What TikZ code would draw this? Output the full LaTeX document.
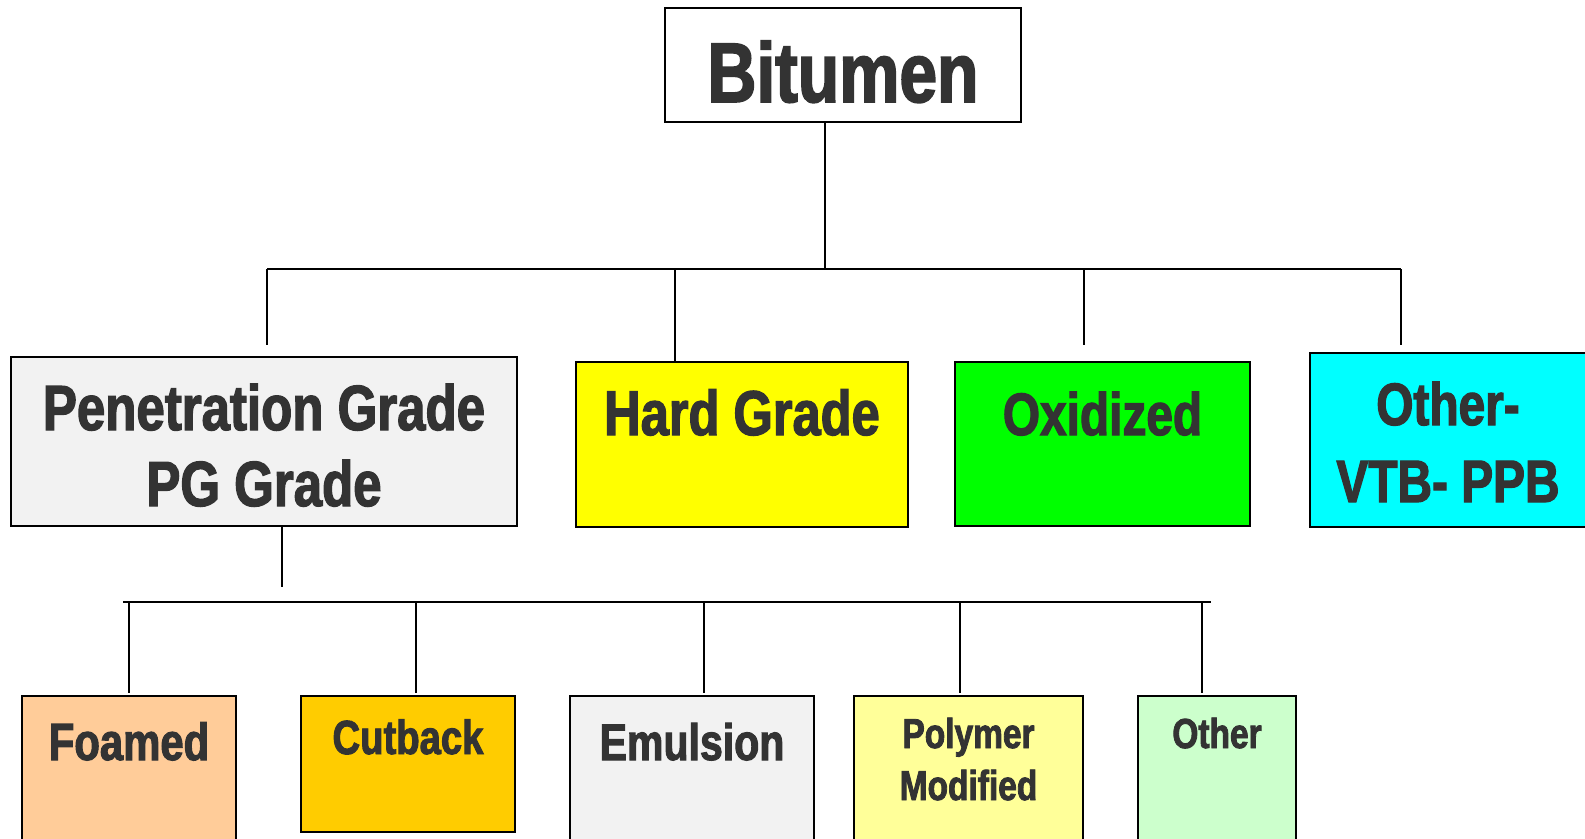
\documentclass[tikz,border=0pt]{standalone}
\usepackage{fontspec}
\newfontfamily\hf{Liberation Sans}[FakeStretch=0.8, BoldFeatures={FakeBold=2}]
\definecolor{txt}{HTML}{333333}
\definecolor{pgfill}{HTML}{F2F2F2}
\definecolor{hardfill}{HTML}{FFFF00}
\definecolor{oxfill}{HTML}{00FF00}
\definecolor{vtbfill}{HTML}{00FFFF}
\definecolor{foamfill}{HTML}{FFCC99}
\definecolor{cutfill}{HTML}{FFCC00}
\definecolor{polyfill}{HTML}{FFFF99}
\definecolor{othfill}{HTML}{CCFFCC}
\begin{document}
\begin{tikzpicture}[x=1bp,y=-1bp,
  box/.style={draw=black, line width=2bp, rectangle, inner sep=0pt},
  lbl/.style={text=txt, font=\hf\bfseries, align=center, inner sep=0pt, anchor=base},
  wire/.style={draw=black, line width=2bp}]
\clip (0,0) rectangle (1585,838);
\fill[white] (0,0) rectangle (1585,838);

% boxes
\node[box, fill=white, minimum width=356bp, minimum height=114bp] (bit) at (843,65) {};
\node[box, fill=pgfill, minimum width=506bp, minimum height=169bp] (pg) at (264,441.5) {};
\node[box, fill=hardfill, minimum width=332bp, minimum height=165bp] (hard) at (742,444.5) {};
\node[box, fill=oxfill, minimum width=295bp, minimum height=164bp] (ox) at (1102.5,444) {};
\node[box, fill=vtbfill, minimum width=290bp, minimum height=174bp] (vtb) at (1455,440) {};
\node[box, fill=foamfill, minimum width=214bp, minimum height=164bp] (foam) at (129,778) {};
\node[box, fill=cutfill, minimum width=214bp, minimum height=136bp] (cut) at (408,764) {};
\node[box, fill=pgfill, minimum width=244bp, minimum height=164bp] (emu) at (692,778) {};
\node[box, fill=polyfill, minimum width=229bp, minimum height=164bp] (poly) at (968.5,778) {};
\node[box, fill=othfill, minimum width=158bp, minimum height=164bp] (oth) at (1217,778) {};

% labels
\node[lbl, font=\hf\bfseries\fontsize{85}{90}\selectfont] (tbit) at (843,102) {Bitumen};
\node[lbl, font=\hf\bfseries\fontsize{64}{76}\selectfont] (tpg1) at (264,430) {Penetration Grade};
\node[lbl, font=\hf\bfseries\fontsize{64}{76}\selectfont] (tpg2) at (264,506) {PG Grade};
\node[lbl, font=\hf\bfseries\fontsize{63.5}{70}\selectfont] (thard) at (742,435) {Hard Grade};
\node[lbl, font=\hf\bfseries\fontsize{60}{70}\selectfont] (tox) at (1102.5,435) {Oxidized};
\node[lbl, font=\hf\bfseries\fontsize{60}{77}\selectfont] (tvtb1) at (1448,425) {Other-};
\node[lbl, font=\hf\bfseries\fontsize{60}{77}\selectfont] (tvtb2) at (1448,502) {VTB- PPB};
\node[lbl, font=\hf\bfseries\fontsize{52.5}{60}\selectfont] (tfoam) at (129,760) {Foamed};
\node[lbl, font=\hf\bfseries\fontsize{48}{55}\selectfont] (tcut) at (408,754) {Cutback};
\node[lbl, font=\hf\bfseries\fontsize{51.5}{60}\selectfont] (temu) at (692,760) {Emulsion};
\node[lbl, font=\hf\bfseries\fontsize{42}{52}\selectfont] (tpoly1) at (968.5,748) {Polymer};
\node[lbl, font=\hf\bfseries\fontsize{42}{52}\selectfont] (tpoly2) at (968.5,800) {Modified};
\node[lbl, font=\hf\bfseries\fontsize{42}{52}\selectfont] (toth) at (1217,748) {Other};

% connector coordinates
\coordinate (busA) at (825,269);
\coordinate (busAL) at (267,269);
\coordinate (busAR) at (1401,269);
\coordinate (dpg) at (267,345);
\coordinate (dox) at (1084,345);
\coordinate (dvtb) at (1401,345);
\coordinate (pgend) at (282,587);
\coordinate (busBL) at (123,602);
\coordinate (busBR) at (1211,602);
\coordinate (dfoam) at (129,693);
\coordinate (dcut) at (416,693);
\coordinate (demu) at (704,693);
\coordinate (dpoly) at (960,693);
\coordinate (doth) at (1202,693);

% top tree
\draw[wire] (bit.south -| busA) -- (busA);
\draw[wire] (busAL) -- (busAR);
\draw[wire] (busAL) -- (dpg);
\draw[wire] (675,269) -- (hard.north -| 675,0);
\draw[wire] (dox |- busA) -- (dox);
\draw[wire] (busAR) -- (dvtb);

% lower tree
\draw[wire] (pg.south -| pgend) -- (pgend);
\draw[wire] (busBL) -- (busBR);
\draw[wire] (dfoam |- busBL) -- (dfoam);
\draw[wire] (dcut |- busBL) -- (dcut);
\draw[wire] (demu |- busBL) -- (demu);
\draw[wire] (dpoly |- busBL) -- (dpoly);
\draw[wire] (doth |- busBL) -- (doth);
\end{tikzpicture}
\end{document}
